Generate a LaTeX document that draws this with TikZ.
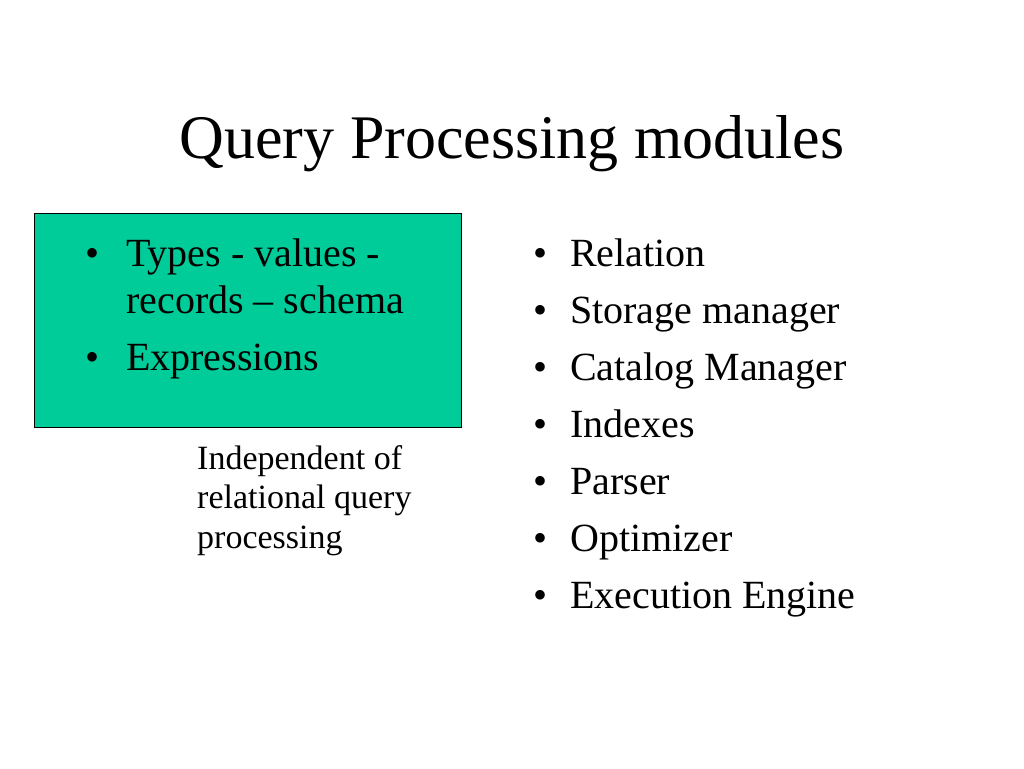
\documentclass[tikz,border=0pt]{standalone}
\usepackage{fontspec}
\setmainfont{Liberation Serif}
\tikzset{
  titletext/.style={anchor=base,inner sep=0pt,font=\fontsize{62}{70}\selectfont},
  itemtext/.style={anchor=base west,inner sep=0pt,font=\fontsize{40}{46}\selectfont},
  bulletmark/.style={anchor=base,inner sep=0pt,font=\fontsize{40}{46}\selectfont},
  notetext/.style={anchor=base west,inner sep=0pt,font=\fontsize{34}{40}\selectfont},
}
\definecolor{boxgreen}{RGB}{0,204,153}
\begin{document}
\begin{tikzpicture}[x=1pt,y=-1pt]
\useasboundingbox (0,0) rectangle (1024,768);
%title
\node[titletext] (title) at (512,158) {Query Processing modules};
%the green box with its two items
\filldraw[fill=boxgreen,draw=black,thin] (34,213) rectangle (461,427);
\node[bulletmark] (b1) at (93,266) {\textbullet};
\node[itemtext] (types) at (126,266) {Types - values -};
\node[itemtext] (records) at (126,313) {records -- schema};
\node[bulletmark] (b2) at (93,370) {\textbullet};
\node[itemtext] (expr) at (126,370) {Expressions};
%note below the box
\node[notetext] (note1) at (197,469) {Independent of};
\node[notetext] (note2) at (197,508) {relational query};
\node[notetext] (note3) at (197,548) {processing};
%list of modules
\foreach \txt [count=\i] in {Relation,Storage manager,Catalog Manager,Indexes,Parser,Optimizer,Execution Engine}{
  \node[bulletmark] (m\i b) at (540,209+57*\i) {\textbullet};
  \node[itemtext] (m\i) at (570,209+57*\i) {\txt};
}
\end{tikzpicture}
\end{document}
